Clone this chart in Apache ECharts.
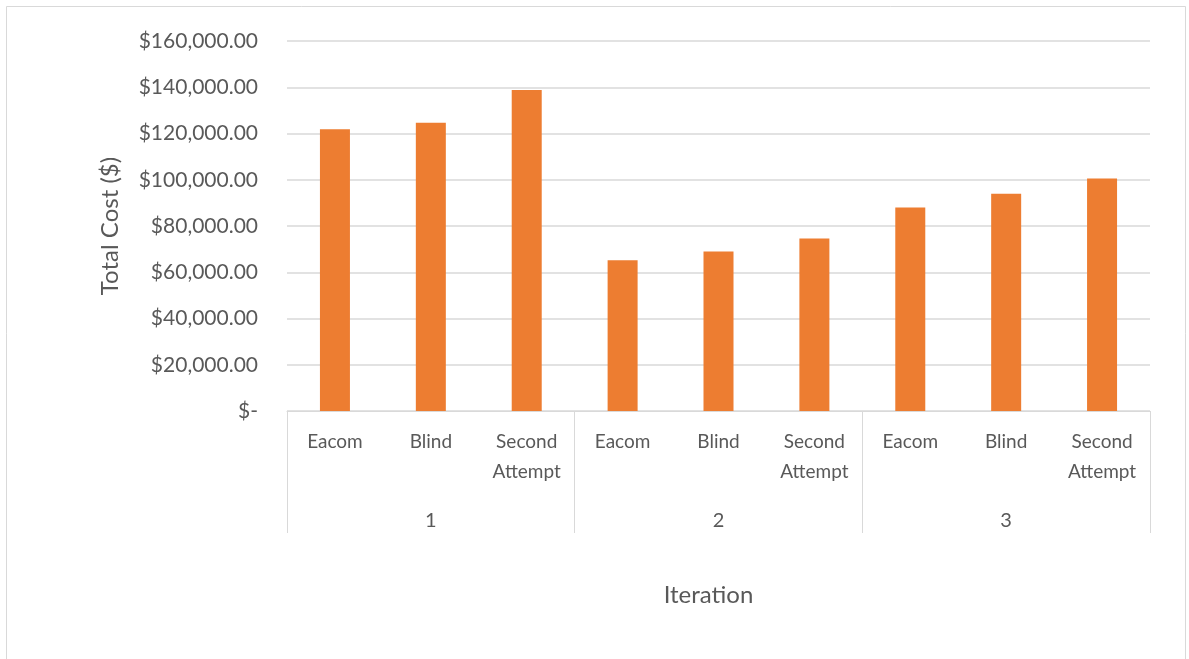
<!DOCTYPE html>
<html>
<head>
<meta charset="UTF-8">
<title>Total Cost by Iteration</title>
<script type="text/javascript" src="https://cdn.jsdelivr.net/npm/echarts@6/dist/echarts.min.js"></script>
<style>
html, body { margin: 0; padding: 0; background: #fff; }
</style>
</head>
<body>
<div id="main" style="width:1189px;height:659px"></div>
<script type="text/javascript">
// values
var methods = ['Eacom', 'Blind', 'Second\nAttempt'];
var iterations = ['1', '2', '3'];
var cost1 = [121800, 124700, 138800];
var cost2 = [65200, 69000, 74600];
var cost3 = [88000, 94000, 100500];

var categories = [];
iterations.forEach(function () {
    methods.forEach(function (m) { categories.push(m); });
});
var values = cost1.concat(cost2).concat(cost3);

var textColor = '#595959';
var lineColor = '#D9D9D9';
var font = 'Lato';

function money(v) {
    if (v === 0) return '$-';
    var s = v.toFixed(2).replace(/\B(?=(\d{3})+(?!\d))/g, ',');
    return '$' + s;
}

var myChart = echarts.init(document.getElementById('main'));

var option = {
    backgroundColor: '#ffffff',
    animation: false,
    textStyle: { fontFamily: font },
    graphic: [{
        type: 'rect',
        shape: { x: 6.5, y: 6.5, width: 1179, height: 670 },
        style: { fill: 'none', stroke: lineColor, lineWidth: 1 },
        silent: true
    }],
    grid: { left: 287, right: 39, top: 41, bottom: 248 },
    xAxis: [{
        type: 'category',
        data: categories,
        position: 'bottom',
        axisLine: { lineStyle: { color: lineColor, width: 1 } },
        axisTick: { show: false },
        axisLabel: {
            interval: 0,
            color: textColor,
            fontSize: 19,
            lineHeight: 30,
            margin: 16,
            fontFamily: font
        },
        name: 'Iteration',
        nameLocation: 'middle',
        nameGap: 172,
        nameTextStyle: { color: textColor, fontSize: 24, fontFamily: font, padding: [0, 20, 0, 0] }
    }, {
        type: 'category',
        data: iterations,
        position: 'bottom',
        axisLine: { show: false },
        axisTick: {
            show: true,
            length: 122,
            lineStyle: { color: lineColor, width: 1 }
        },
        axisLabel: {
            color: textColor,
            fontSize: 20,
            lineHeight: 30,
            margin: 95,
            fontFamily: font
        }
    }],
    yAxis: {
        type: 'value',
        min: 0,
        max: 160000,
        interval: 20000,
        axisLine: { show: false },
        axisTick: { show: false },
        splitLine: { lineStyle: { color: lineColor, width: 1.5 } },
        axisLabel: {
            color: textColor,
            fontSize: 21,
            margin: 29,
            fontFamily: font,
            formatter: money
        },
        name: 'Total Cost ($)',
        nameLocation: 'middle',
        nameGap: 165,
        nameTextStyle: { color: textColor, fontSize: 24, fontFamily: font }
    },
    series: [{
        type: 'bar',
        xAxisIndex: 0,
        data: values,
        barWidth: 30,
        itemStyle: { color: '#ED7D31' }
    }]
};

myChart.setOption(option);
</script>
</body>
</html>
